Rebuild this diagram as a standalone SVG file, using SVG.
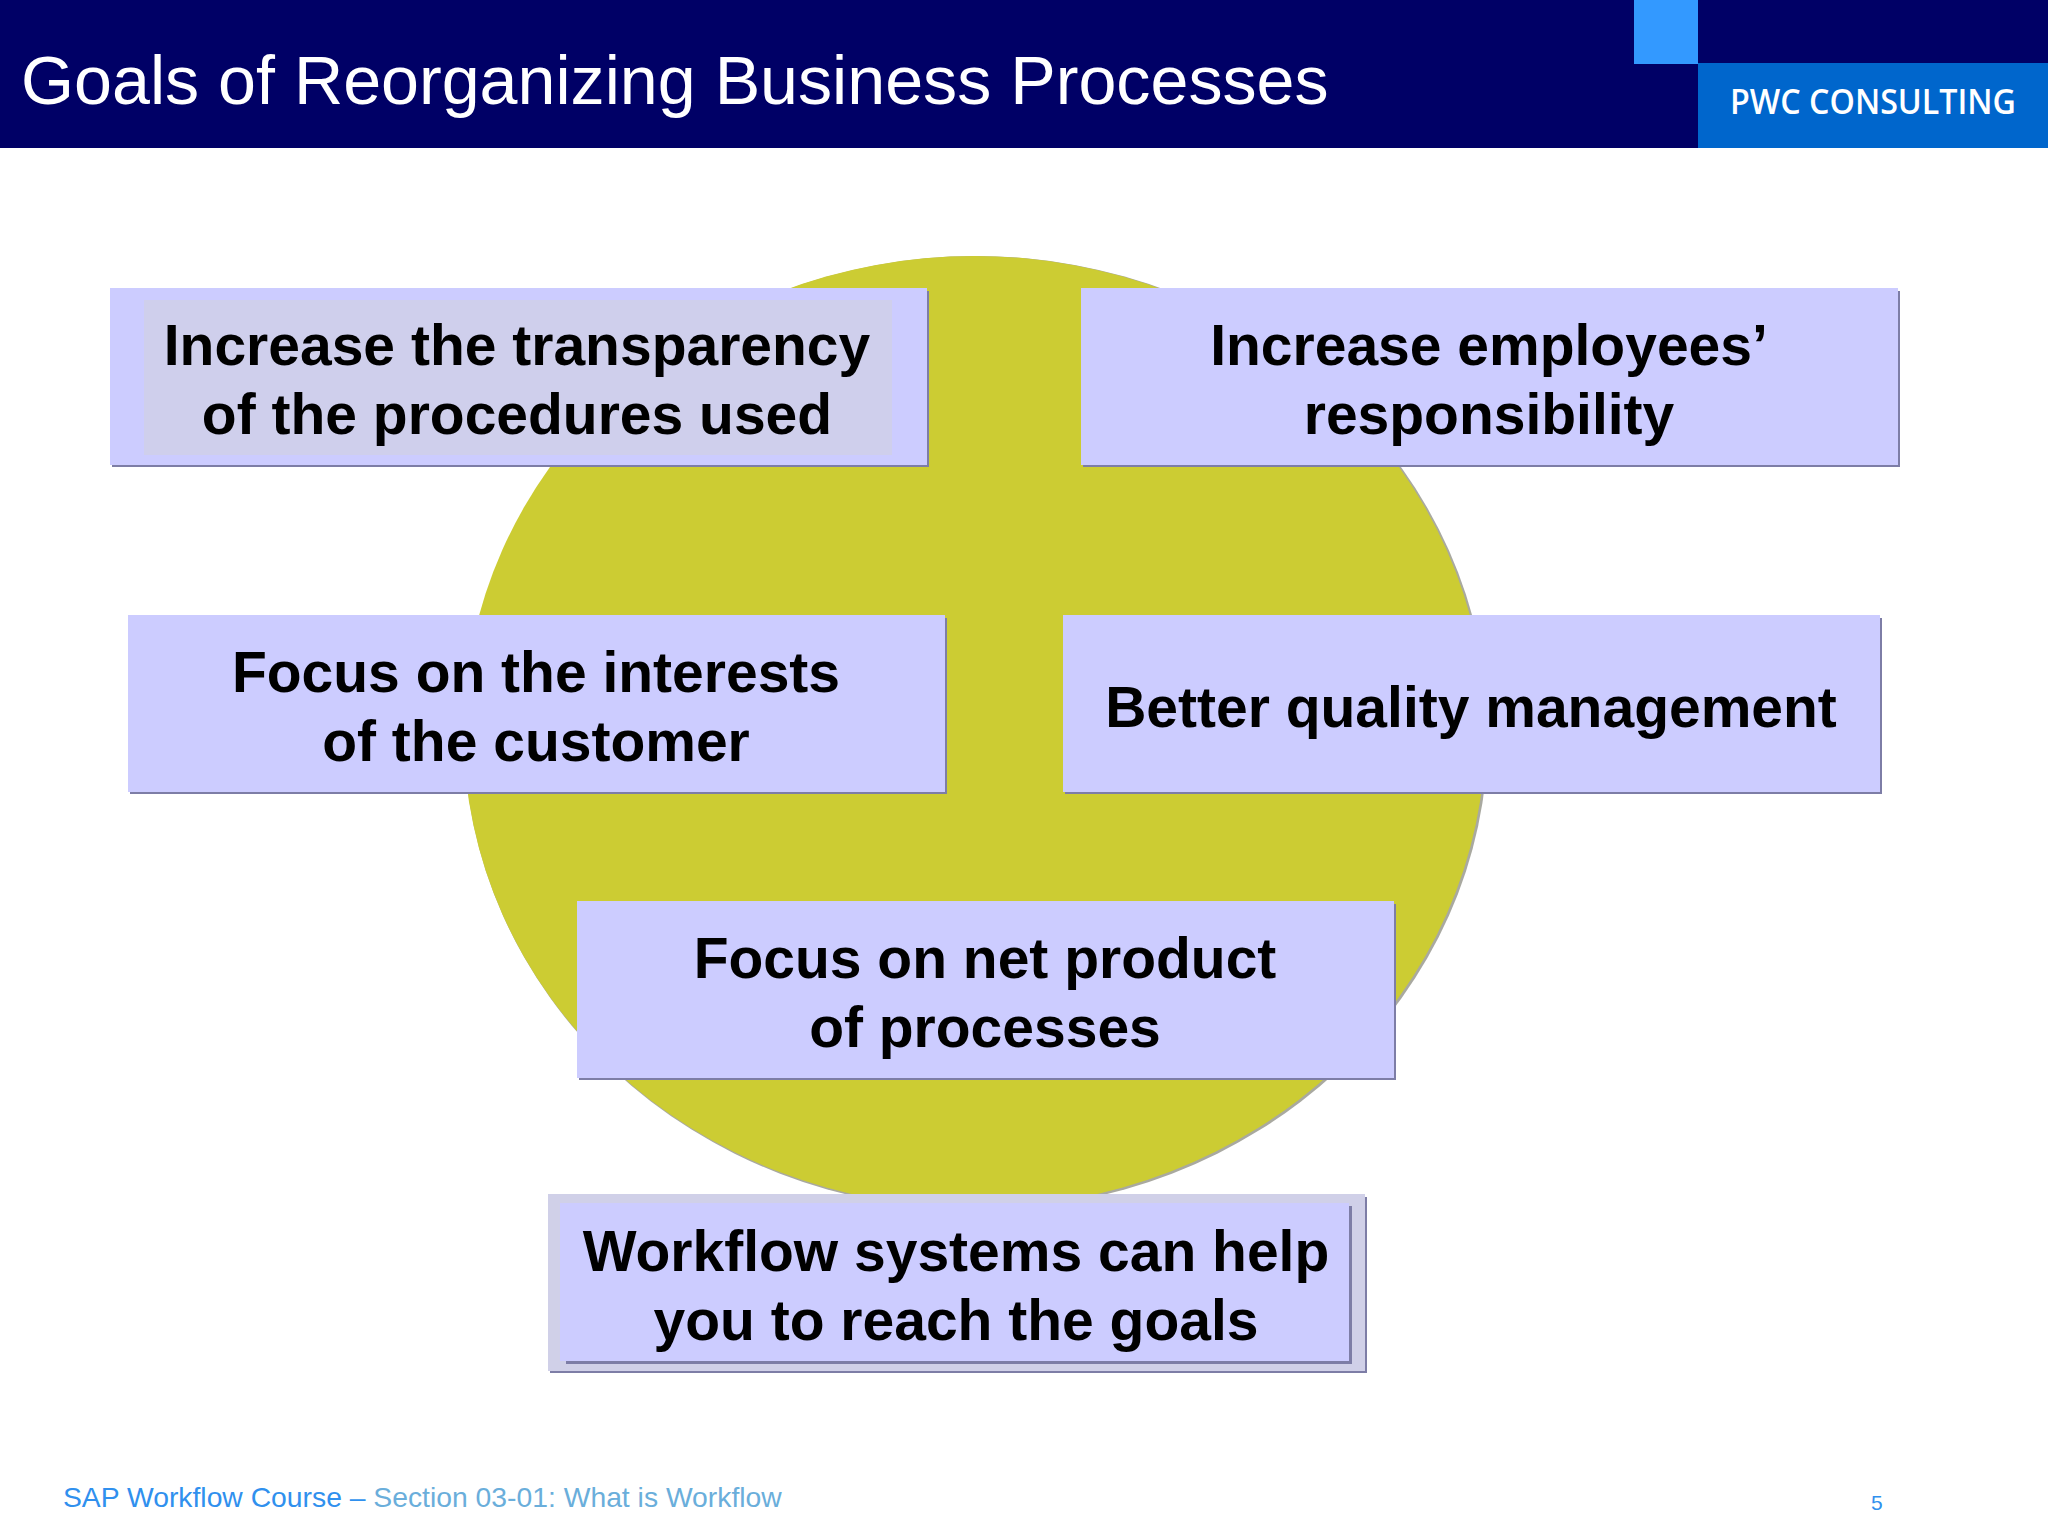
<svg xmlns="http://www.w3.org/2000/svg" width="2048" height="1536" viewBox="0 0 2048 1536">
<style>
.s{fill:#7d7da6}
.b{fill:#ccccff}
.t{font-family:"Liberation Sans",Arial,sans-serif;font-weight:bold;font-size:57px;fill:#000;text-anchor:middle}
</style>
<rect width="2048" height="1536" fill="#ffffff"/>
<g id="header">
<rect width="2048" height="148" fill="#000066"/>
<rect x="1634" y="0" width="64" height="64" fill="#3399ff"/>
<rect x="1698" y="63" width="350" height="85" fill="#0066cc"/>
<text x="21" y="104" font-family="'Liberation Sans',Arial,sans-serif" font-size="68.2" fill="#ffffff">Goals of Reorganizing Business Processes</text>
<text x="1730" y="114" font-family="'Open Sans','Noto Sans',sans-serif" font-weight="600" font-size="35" fill="#ffffff" textLength="286" lengthAdjust="spacingAndGlyphs">PWC CONSULTING</text>
</g>
<g id="circle">
<ellipse cx="976" cy="733" rx="512" ry="477" fill="#a9a9a0"/>
<ellipse cx="974.5" cy="732" rx="511" ry="476" fill="#cccc33"/>
</g>
<g id="connectors"/>
<g id="goal-transparency">
<rect class="s" x="112" y="291" width="817" height="176"/>
<rect class="b" x="110" y="288" width="817" height="177"/>
<rect x="144" y="300" width="748" height="155" fill="#cfcfec"/>
<text class="t" x="517" y="365">Increase the transparency</text>
<text class="t" x="517" y="434">of the procedures used</text>
</g>
<g id="goal-responsibility">
<rect class="s" x="1083" y="291" width="817" height="176"/>
<rect class="b" x="1081" y="288" width="817" height="177"/>
<text class="t" x="1489" y="365">Increase employees’</text>
<text class="t" x="1489" y="434">responsibility</text>
</g>
<g id="goal-customer">
<rect class="s" x="130" y="618" width="817" height="176"/>
<rect class="b" x="128" y="615" width="817" height="177"/>
<text class="t" x="536" y="692">Focus on the interests</text>
<text class="t" x="536" y="761">of the customer</text>
</g>
<g id="goal-quality">
<rect class="s" x="1065" y="618" width="817" height="176"/>
<rect class="b" x="1063" y="615" width="817" height="177"/>
<text class="t" x="1471" y="727">Better quality management</text>
</g>
<g id="goal-net-product">
<rect class="s" x="579" y="904" width="817" height="176"/>
<rect class="b" x="577" y="901" width="817" height="177"/>
<text class="t" x="985" y="978">Focus on net product</text>
<text class="t" x="985" y="1047">of processes</text>
</g>
<g id="workflow-systems">
<rect class="s" x="550" y="1197" width="817" height="176"/>
<rect x="548" y="1194" width="817" height="177" fill="#d0d0e8"/>
<rect class="s" x="566" y="1206" width="786" height="158"/>
<rect class="b" x="560" y="1203" width="789" height="158"/>
<text class="t" x="956" y="1271">Workflow systems can help</text>
<text class="t" x="956" y="1340">you to reach the goals</text>
</g>
<g id="footer" font-family="'Liberation Sans',Arial,sans-serif">
<text x="63" y="1507" font-size="28.3"><tspan fill="#3090ee">SAP Workflow Course – </tspan><tspan fill="#6aaedb">Section 03-01: What is Workflow</tspan></text>
<text x="1871" y="1510" font-size="21" fill="#3090ee">5</text>
</g>
</svg>
